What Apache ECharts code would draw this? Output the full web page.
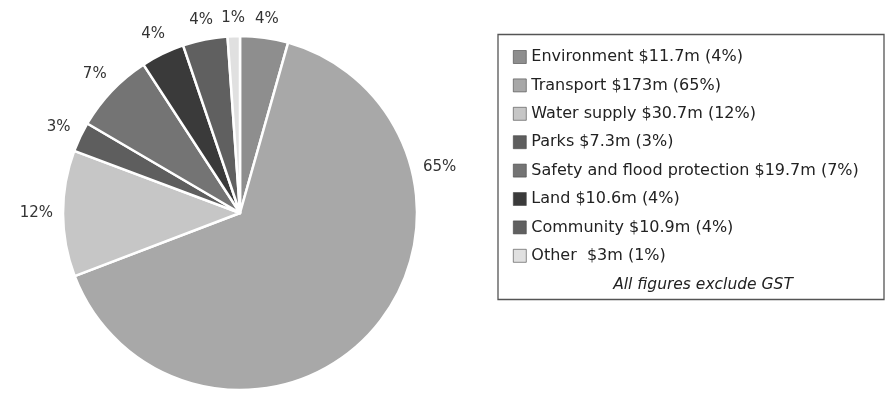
<!DOCTYPE html>
<html>
<head>
<meta charset="utf-8">
<script src="https://cdn.jsdelivr.net/npm/echarts@6/dist/echarts.min.js"></script>
<style>html,body{margin:0;padding:0;background:#fff}#c{width:887px;height:397px}</style>
</head>
<body>
<div id="c"></div>
<script>
const categories = ["Environment", "Transport", "Water supply", "Parks", "Safety and flood protection", "Land", "Community", "Other"];
const values = [11.7, 173, 30.7, 7.3, 19.7, 10.6, 10.9, 3];
const amountLabels = ["$11.7m", "$173m", "$30.7m", "$7.3m", "$19.7m", "$10.6m", "$10.9m", " $3m"];
const percentLabels = ["4%", "65%", "12%", "3%", "7%", "4%", "4%", "1%"];
const colors = ["#8e8e8e", "#a8a8a8", "#c6c6c6", "#5e5e5e", "#747474", "#3a3a3a", "#606060", "#e0e0e0"];
const note = "All figures exclude GST";

const FONT = "DejaVu Sans";
const CX = 240, CY = 213, R = 177, GAP = 10;
const total = values.reduce((a, b) => a + b, 0);
const data = categories.map((c, i) => ({ name: c, value: values[i], itemStyle: { color: colors[i] } }));

const chart = echarts.init(document.getElementById('c'), null, { renderer: 'canvas' });
chart.setOption({
  animation: false,
  backgroundColor: '#fff',
  legend: {
    data: categories,
    orient: 'vertical',
    left: 513,
    top: 48,
    padding: 0,
    icon: 'rect',
    itemWidth: 13,
    itemHeight: 13,
    itemGap: 10.4,
    selectedMode: false,
    itemStyle: { borderColor: '#444', borderWidth: 0.6 },
    textStyle: { fontFamily: FONT, fontSize: 16, color: '#222', lineHeight: 18 },
    formatter: name => {
      const i = categories.indexOf(name);
      return name + ' ' + amountLabels[i] + ' (' + percentLabels[i] + ')';
    }
  },
  graphic: [
    { type: 'rect', shape: { x: 498, y: 34.5, width: 386, height: 265 }, style: { fill: 'none', stroke: '#555', lineWidth: 1.3 }, silent: true },
    { type: 'text', x: 703, y: 285, style: { text: note, fontFamily: FONT, fontSize: 15.5, fontStyle: 'italic', fill: '#222', align: 'center', verticalAlign: 'middle' }, silent: true }
  ],
  series: [
    {
      type: 'pie',
      center: [CX, CY],
      radius: R,
      startAngle: 90,
      clockwise: true,
      percentPrecision: 0,
      data: data,
      label: { show: true, position: 'inside', formatter: '{d}%', fontFamily: FONT, fontSize: 15, color: '#333' },
      labelLine: { show: false },
      labelLayout: function (p) {
        const i = p.dataIndex;
        let before = 0;
        for (let k = 0; k < i; k++) before += values[k];
        let ang = Math.PI / 2 - ((before + values[i] / 2) / total) * 2 * Math.PI;
        // the reference puts the large slice's label in its upper-right part
        if (i === 1) ang = 13 * Math.PI / 180;
        const w = p.labelRect.width, h = p.labelRect.height;
        const c = Math.cos(ang), s = Math.sin(ang);
        const d = R + GAP + (w / 2) * Math.abs(c) + (h / 2) * Math.abs(s);
        return { x: CX + d * c, y: CY - d * s };
      },
      itemStyle: { borderColor: '#fff', borderWidth: 2.5 },
      silent: true
    }
  ]
});
</script>
</body>
</html>
